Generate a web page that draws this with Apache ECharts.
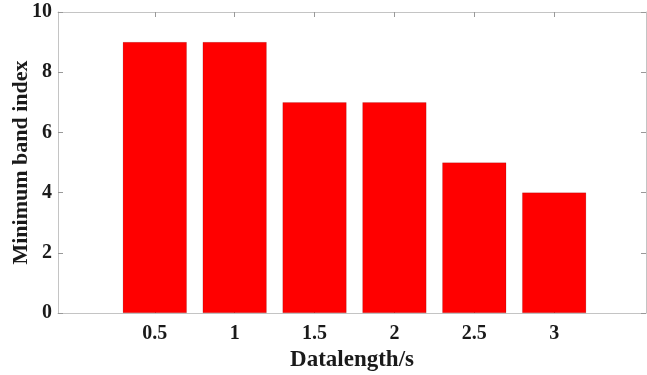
<!DOCTYPE html>
<html>
<head>
    <meta charset="utf-8">
    <title>Minimum band index</title>
    <script src="https://cdn.jsdelivr.net/npm/echarts@6/dist/echarts.min.js"></script>
</head>
<body style="margin:0">
    <div id="main" style="width: 647px;height:375px;"></div>
    <script type="text/javascript">
        // data
        var lengths = [0.5, 1, 1.5, 2, 2.5, 3];
        var bandIndex = [9, 9, 7, 7, 5, 4];
        var yTicks = [0, 2, 4, 6, 8, 10];

        var font = 'Liberation Serif';
        var lineColor = '#c4c4c4';

        var myChart = echarts.init(document.getElementById('main'));

        var points = lengths.map(function (x, i) {
            return [x, bandIndex[i]];
        });

        var tickStyle = { show: true, inside: true, length: 5, lineStyle: { color: '#999' } };
        var lineStyle = { show: true, onZero: false, lineStyle: { color: lineColor } };

        var option = {
            animation: false,
            grid: { left: 58, right: 1, top: 12, bottom: 62, outerBoundsMode: 'none', containLabel: false },
            xAxis: [{
                type: 'value',
                min: -0.106,
                max: 3.575,
                name: 'Datalength/s',
                nameLocation: 'middle',
                nameGap: 36,
                nameMoveOverlap: false,
                nameTextStyle: { fontFamily: font, fontWeight: 'bold', fontSize: 23, color: '#1a1a1a' },
                axisLine: lineStyle,
                axisTick: Object.assign({ customValues: lengths }, tickStyle),
                axisLabel: {
                    customValues: lengths,
                    fontFamily: font, fontWeight: 'bold', fontSize: 20, color: '#1a1a1a', margin: 11
                },
                splitLine: { show: false }
            }, {
                type: 'value',
                position: 'top',
                min: -0.106,
                max: 3.575,
                axisLine: lineStyle,
                axisTick: Object.assign({ customValues: lengths }, tickStyle),
                axisLabel: { show: false },
                splitLine: { show: false }
            }],
            yAxis: [{
                type: 'value',
                min: 0,
                max: 10,
                interval: 2,
                name: 'Minimum band index',
                nameLocation: 'middle',
                nameGap: 26,
                nameMoveOverlap: false,
                nameTextStyle: { fontFamily: font, fontWeight: 'bold', fontSize: 22, color: '#1a1a1a' },
                axisLine: lineStyle,
                axisTick: tickStyle,
                axisLabel: {
                    customValues: yTicks,
                    fontFamily: font, fontWeight: 'bold', fontSize: 20, color: '#1a1a1a', margin: 6
                },
                splitLine: { show: false }
            }, {
                type: 'value',
                position: 'right',
                min: 0,
                max: 10,
                interval: 2,
                axisLine: lineStyle,
                axisTick: tickStyle,
                axisLabel: { show: false },
                splitLine: { show: false }
            }],
            series: [{
                type: 'bar',
                data: points,
                barWidth: 64,
                itemStyle: { color: '#ff0000', borderColor: 'rgba(0,0,0,0.25)', borderWidth: 0.5 }
            }]
        };

        myChart.setOption(option);
    </script>
</body>
</html>
